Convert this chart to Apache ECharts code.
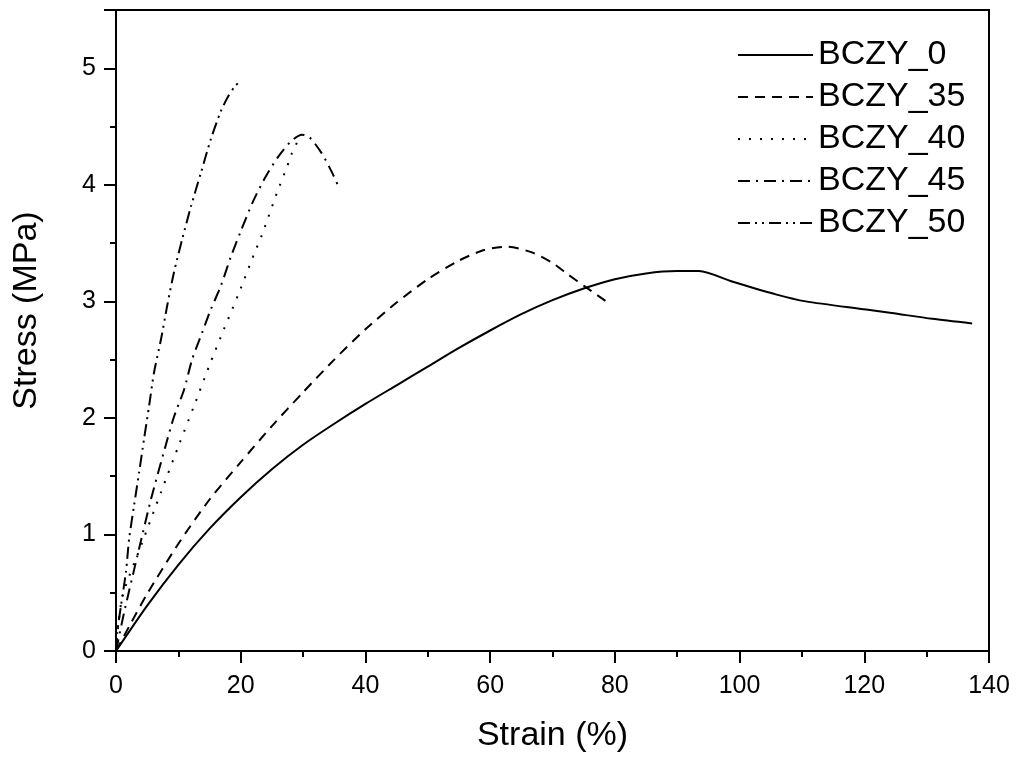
<!DOCTYPE html>
<html>
<head>
<meta charset="utf-8">
<script src="https://cdn.jsdelivr.net/npm/echarts@6/dist/echarts.min.js"></script>
<style>
html, body { margin: 0; padding: 0; background: #fff; }
#main { width: 1016px; height: 758px; }
</style>
</head>
<body>
<div id="main"></div>
<script>
var names = ['BCZY_0', 'BCZY_35', 'BCZY_40', 'BCZY_45', 'BCZY_50'];

var strain0 = [0, 5, 10, 15, 20, 25, 30, 35, 40, 45, 50, 55, 60, 65, 70, 75, 80, 85, 90, 93.5, 98.8, 105.8, 110.6, 120.3, 124.4, 130.9, 137.3];
var stress0 = [0, 0.39, 0.74, 1.05, 1.32, 1.56, 1.77, 1.95, 2.12, 2.28, 2.44, 2.60, 2.75, 2.89, 3.01, 3.11, 3.19, 3.24, 3.26, 3.26, 3.17, 3.06, 3.00, 2.93, 2.90, 2.85, 2.81];

var strain35 = [0, 2.1, 5, 10, 15, 20, 25, 30, 35, 40, 45, 50, 55, 59, 62.7, 66.7, 70, 72.5, 75.4, 78.6];
var stress35 = [0, 0.21, 0.49, 0.92, 1.30, 1.62, 1.93, 2.22, 2.50, 2.76, 2.99, 3.19, 3.35, 3.44, 3.47, 3.42, 3.33, 3.23, 3.12, 3.00];

var strain40 = [0, 1, 4.2, 7.2, 10.1, 12.5, 14.9, 17.3, 19.7, 22.1, 23.4, 25.8, 27.4, 28.2, 29];
var stress40 = [0, 0.46, 0.93, 1.36, 1.77, 2.10, 2.44, 2.76, 3.07, 3.40, 3.57, 3.93, 4.15, 4.27, 4.36];

var strain45 = [0, 1.3, 3.4, 5.6, 8.0, 9.3, 10.9, 12.2, 13.8, 15.2, 16.8, 18.4, 20, 22, 24, 26, 28, 29.8, 31, 33, 34.7, 35.8];
var stress45 = [0, 0.33, 0.81, 1.30, 1.77, 2.01, 2.24, 2.50, 2.73, 2.93, 3.13, 3.38, 3.60, 3.86, 4.07, 4.24, 4.37, 4.43, 4.41, 4.27, 4.10, 3.97];

var strain50 = [0, 0.2, 0.8, 1.6, 2.1, 2.9, 3.7, 4.5, 5.3, 6.1, 7.2, 8.2, 9.3, 10.6, 12.0, 13.6, 15.2, 16.8, 18, 19, 19.9];
var stress50 = [0, 0.16, 0.39, 0.68, 0.96, 1.25, 1.53, 1.82, 2.10, 2.39, 2.67, 2.96, 3.25, 3.53, 3.81, 4.10, 4.39, 4.63, 4.76, 4.84, 4.89];

var xTicks = [0, 20, 40, 60, 80, 100, 120, 140];
var yTicks = [0, 1, 2, 3, 4, 5];

var strains = [strain0, strain35, strain40, strain45, strain50];
var stresses = [stress0, stress35, stress40, stress45, stress50];
// line patterns: solid, dash, dot, dash-dot, dash-dot-dot
var dashes = ['solid', [10, 7], [2, 9], [12, 6, 2, 6], [12, 5, 2, 5, 2, 5]];

function pairs(xs, ys) {
	var out = [];
	for (var i = 0; i < xs.length; i++) out.push([xs[i], ys[i]]);
	return out;
}

var fam = '"Liberation Sans", Arial, sans-serif';

var series = names.map(function (n, i) {
	return {
		name: n,
		type: 'line',
		data: pairs(strains[i], stresses[i]),
		smooth: 0.25,
		showSymbol: false,
		symbol: 'none',
		lineStyle: { color: '#000', width: 2, type: dashes[i] },
		itemStyle: { color: '#000' }
	};
});

var myChart = echarts.init(document.getElementById('main'));
var option = {
	animation: false,
	backgroundColor: '#fff',
	grid: {
		left: 116, right: 27, top: 10, bottom: 107,
		show: true, borderColor: '#000', borderWidth: 2
	},
	legend: {
		orient: 'vertical',
		left: 732, top: 33,
		itemWidth: 75, itemHeight: 14, itemGap: 8,
		itemStyle: { opacity: 0 },
		textStyle: { fontSize: 34, fontFamily: fam, color: '#000' },
		data: names
	},
	xAxis: {
		type: 'value',
		min: 0, max: 140, interval: 20,
		name: 'Strain (%)',
		nameLocation: 'middle', nameGap: 68,
		nameTextStyle: { fontSize: 34, fontFamily: fam, color: '#000' },
		axisLine: { lineStyle: { color: '#000', width: 2 } },
		axisTick: { inside: false, length: 12, lineStyle: { color: '#000', width: 2 } },
		minorTick: { show: true, splitNumber: 2, length: 6, lineStyle: { color: '#000', width: 2 } },
		splitLine: { show: false },
		axisLabel: {
			margin: 23, fontSize: 25, fontFamily: fam, color: '#000',
			formatter: function (v) { return xTicks.indexOf(v) >= 0 ? String(v) : ''; }
		}
	},
	yAxis: {
		type: 'value',
		min: 0, max: 5.5, interval: 1,
		name: 'Stress (MPa)',
		nameLocation: 'middle', nameGap: 72,
		nameTextStyle: { fontSize: 34, fontFamily: fam, color: '#000', padding: [0, 0, 0, 40] },
		axisLine: { lineStyle: { color: '#000', width: 2 } },
		axisTick: { inside: false, length: 12, lineStyle: { color: '#000', width: 2 } },
		minorTick: { show: true, splitNumber: 2, length: 6, lineStyle: { color: '#000', width: 2 } },
		splitLine: { show: false },
		axisLabel: {
			margin: 20, fontSize: 25, fontFamily: fam, color: '#000',
			formatter: function (v) { return yTicks.indexOf(v) >= 0 ? String(v) : ''; }
		}
	},
	series: series
};
myChart.setOption(option);
</script>
</body>
</html>
